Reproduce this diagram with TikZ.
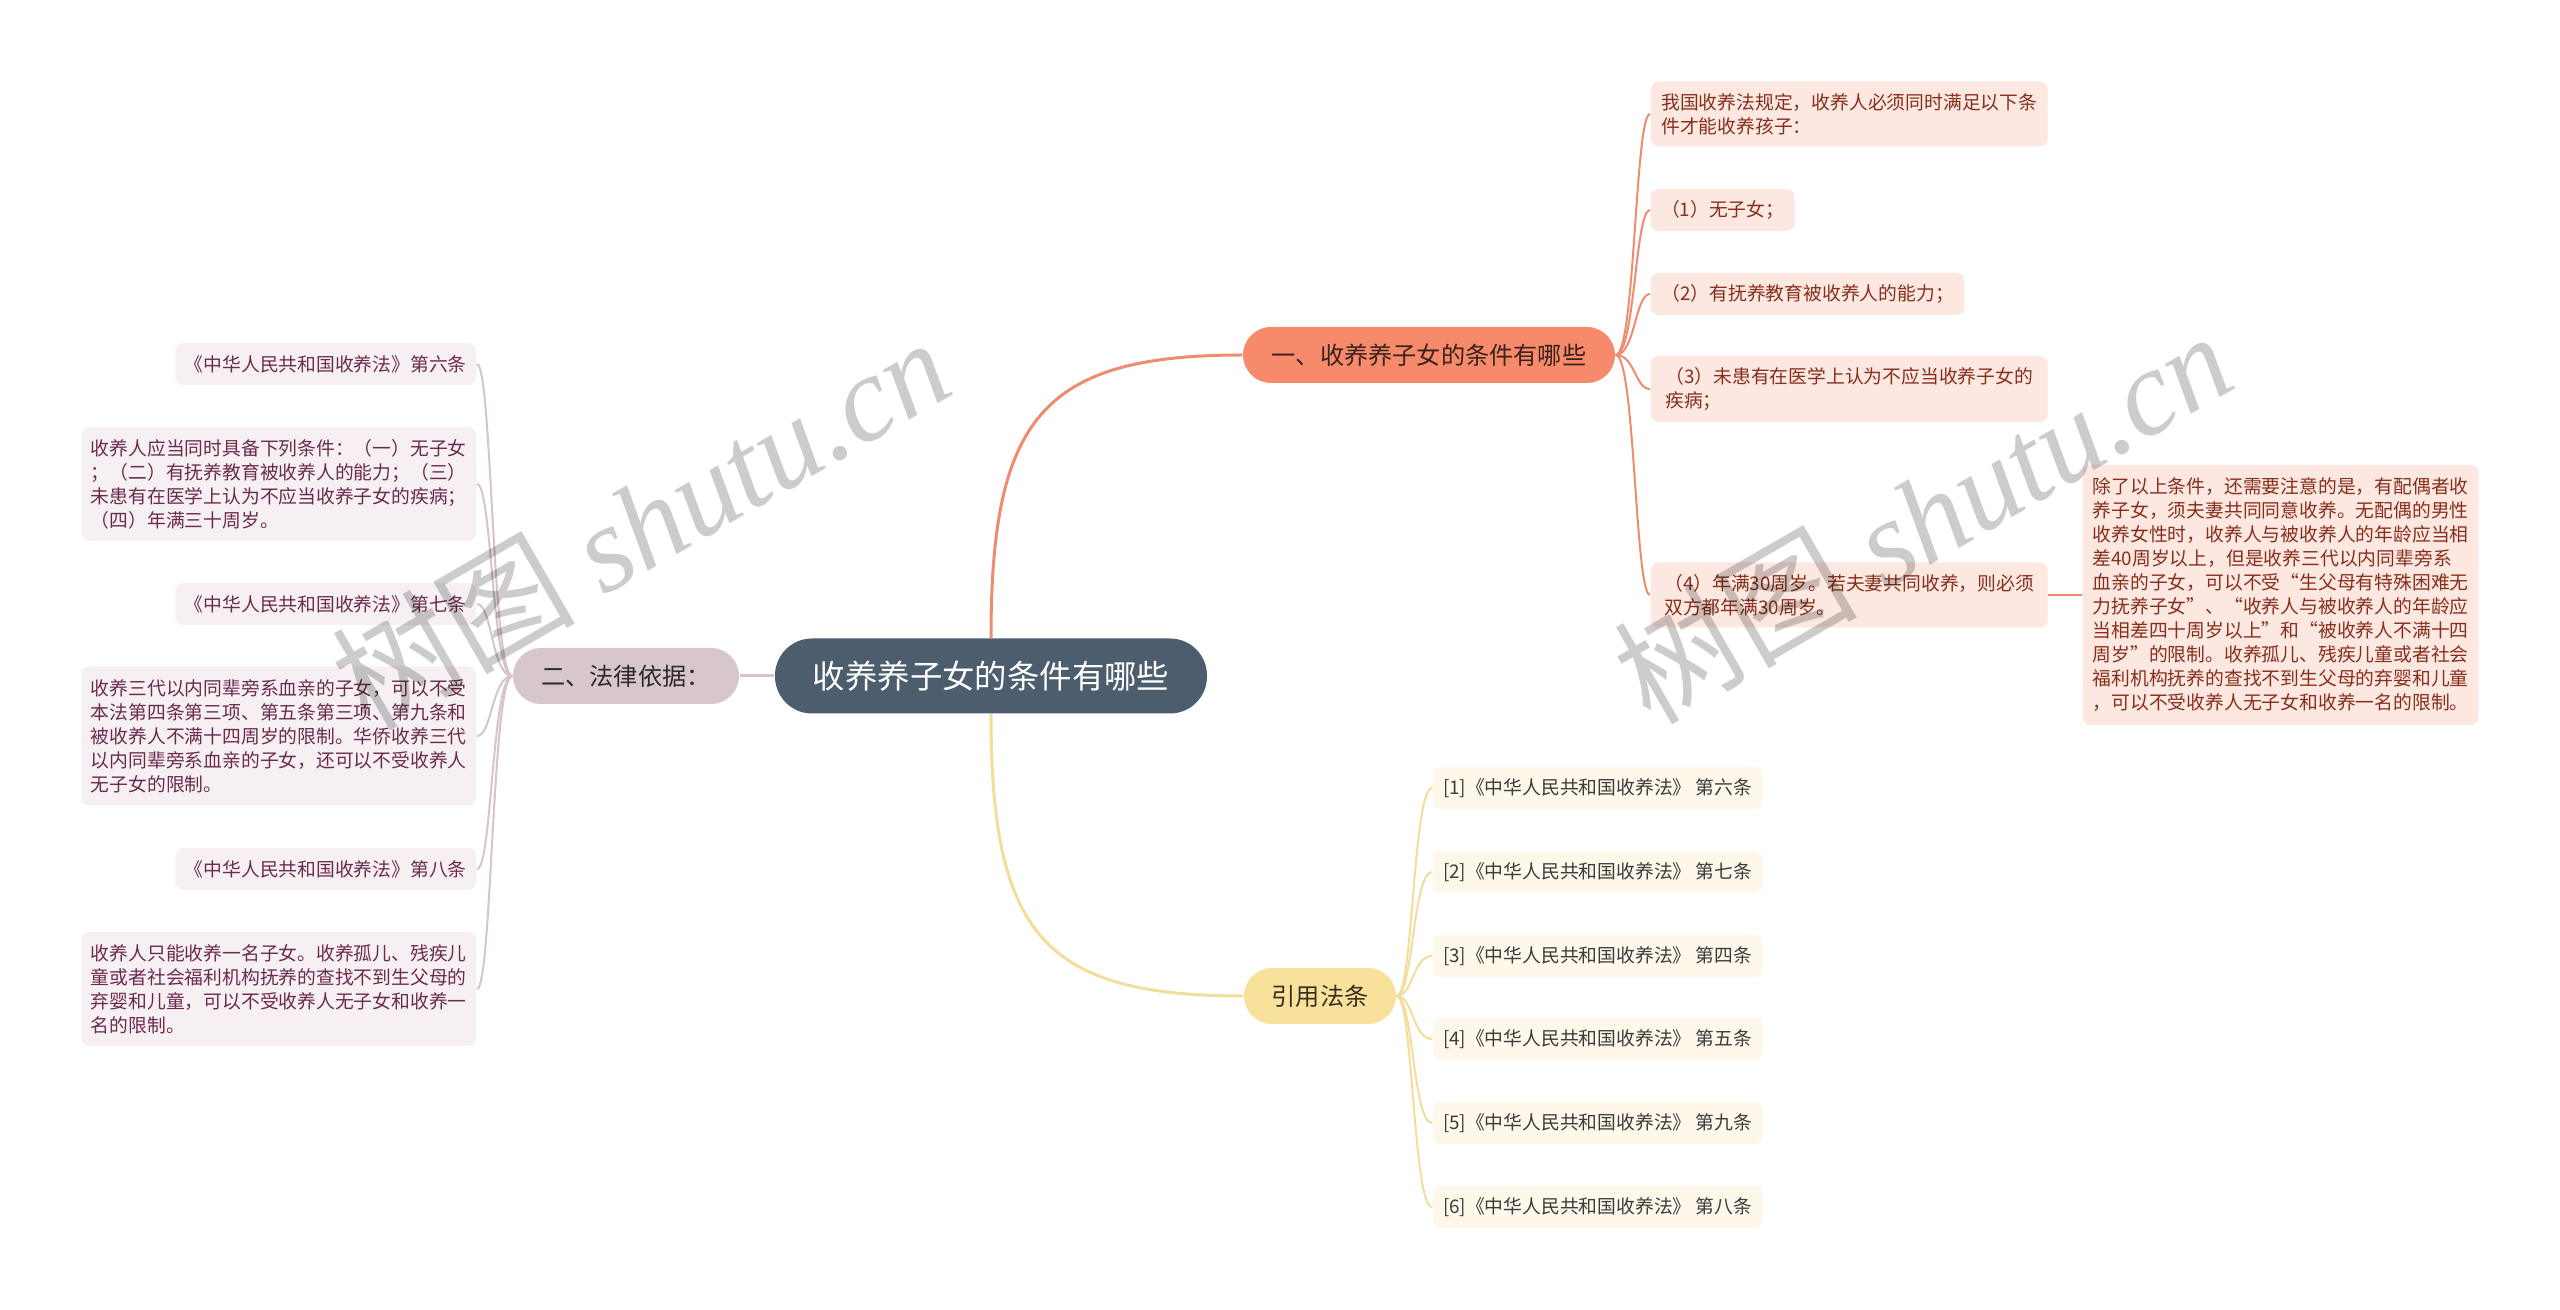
\documentclass[tikz,border=0pt]{standalone}
\usepackage{fontspec}
\newfontfamily\cjk{Noto Sans CJK SC}
\newfontfamily\wmlatin{Liberation Serif}
\usepackage{xcolor}
\usetikzlibrary{positioning,calc}
\definecolor{rootfill}{HTML}{4C5D6E}
\definecolor{tafill}{HTML}{F88A6C}
\definecolor{tatext}{HTML}{3A221C}
\definecolor{linea}{HTML}{EF8B6F}
\definecolor{tbfill}{HTML}{D8C6CF}
\definecolor{tbtext}{HTML}{2B2B2B}
\definecolor{lineb}{HTML}{D6C3CD}
\definecolor{tcfill}{HTML}{F7E19B}
\definecolor{tctext}{HTML}{3A3020}
\definecolor{linec}{HTML}{F2DD9A}
\definecolor{lafill}{HTML}{FDE7E1}
\definecolor{latext}{HTML}{86301C}
\definecolor{lbfill}{HTML}{F6F0F3}
\definecolor{lbtext}{HTML}{6B2B4E}
\definecolor{lcfill}{HTML}{FEF8EA}
\definecolor{lctext}{HTML}{3C3C3C}

\begin{document}
\begin{tikzpicture}[
  x=0.1mm, y=-0.1mm,
  box/.style={rounded corners=0.8mm, inner xsep=0.9mm, inner ysep=0pt, align=left},
  pill/.style={rounded corners=2.8mm, inner sep=0pt, minimum height=5.6mm, font=\cjk\fontsize{2.42mm}{2.9mm}\selectfont},
  root/.style={pill, rounded corners=3.7mm, fill=rootfill, text=white, minimum width=43.2mm, minimum height=7.5mm, font=\cjk\fontsize{3.24mm}{3.9mm}\selectfont},
  topica/.style={pill, fill=tafill, text=tatext, minimum width=37.2mm},
  topicb/.style={pill, fill=tbfill, text=tbtext, minimum width=22.6mm},
  topicc/.style={pill, fill=tcfill, text=tctext, minimum width=15.2mm},
  leaf/.style={box, font=\cjk\fontsize{1.88mm}{2.4mm}\selectfont, minimum height=4.2mm},
  leafa/.style={leaf, fill=lafill, text=latext, anchor=west},
  leafb/.style={leaf, fill=lbfill, text=lbtext, anchor=east},
  leafc/.style={leaf, fill=lcfill, text=lctext, anchor=west, minimum width=33mm},
  main/.style={line width=0.3mm},
  lnka/.style={draw=linea, line width=0.2mm},
  lnkb/.style={draw=lineb, line width=0.2mm},
  lnkc/.style={draw=linec, line width=0.2mm},
  wm/.style={text=black, text opacity=0.2, font=\cjk\fontsize{12.2mm}{12.2mm}\selectfont, rotate=30},
]
\useasboundingbox (0,0) rectangle (2560,1310);

\node[root] (root) at (991,676) {收养养子女的条件有哪些};
\node[topica] (t1) at (1429,355) {一、收养养子女的条件有哪些};
\node[topicb] (t2) at (626,676) {二、法律依据：};
\node[topicc] (t3) at (1320,996) {引用法条};

\coordinate (h1) at (1635,355);
\coordinate (h2) at (492,676);
\coordinate (h3) at (1413,996);

\node[leafa, minimum width=39.7mm, minimum height=6.5mm] (c1) at (1650,114) {我国收养法规定，收养人必须同时满足以下条\\件才能收养孩子：};
\node[leafa, minimum width=14.4mm] (c2) at (1650,210) {（1）无子女；};
\node[leafa, minimum width=31.4mm] (c3) at (1650,294) {（2）有抚养教育被收养人的能力；};
\node[leafa, minimum width=39.7mm, minimum height=6.6mm] (c4) at (1650,389) {（3）未患有在医学上认为不应当收养子女的\\疾病；};
\node[leafa, minimum width=39.7mm, minimum height=6.5mm] (c5) at (1650,595) {（4）年满30周岁。若夫妻共同收养，则必须\\双方都年满30周岁。};
\node[leafa, minimum width=39.6mm, minimum height=26mm] (c5n) at (2082,595) {除了以上条件，还需要注意的是，有配偶者收\\养子女，须夫妻共同同意收养。无配偶的男性\\收养女性时，收养人与被收养人的年龄应当相\\差40周岁以上，但是收养三代以内同辈旁系\\血亲的子女，可以不受“生父母有特殊困难无\\力抚养子女”、“收养人与被收养人的年龄应\\当相差四十周岁以上”和“被收养人不满十四\\周岁”的限制。收养孤儿、残疾儿童或者社会\\福利机构抚养的查找不到生父母的弃婴和儿童\\，可以不受收养人无子女和收养一名的限制。};

\node[leafb, minimum width=30.1mm] (l1) at (477,364) {《中华人民共和国收养法》第六条};
\node[leafb, minimum width=39.5mm, minimum height=11.4mm] (l2) at (477,484) {收养人应当同时具备下列条件：（一）无子女\\；（二）有抚养教育被收养人的能力；（三）\\未患有在医学上认为不应当收养子女的疾病；\\（四）年满三十周岁。};
\node[leafb, minimum width=30.1mm] (l3) at (477,604) {《中华人民共和国收养法》第七条};
\node[leafb, minimum width=39.5mm, minimum height=13.9mm] (l4) at (477,736) {收养三代以内同辈旁系血亲的子女，可以不受\\本法第四条第三项、第五条第三项、第九条和\\被收养人不满十四周岁的限制。华侨收养三代\\以内同辈旁系血亲的子女，还可以不受收养人\\无子女的限制。};
\node[leafb, minimum width=30.1mm] (l5) at (477,869) {《中华人民共和国收养法》第八条};
\node[leafb, minimum width=39.5mm, minimum height=11.4mm] (l6) at (477,989) {收养人只能收养一名子女。收养孤儿、残疾儿\\童或者社会福利机构抚养的查找不到生父母的\\弃婴和儿童，可以不受收养人无子女和收养一\\名的限制。};

\node[leafc] (r1) at (1432,788) {[1]《中华人民共和国收养法》 第六条};
\node[leafc] (r2) at (1432,872) {[2]《中华人民共和国收养法》 第七条};
\node[leafc] (r3) at (1432,956) {[3]《中华人民共和国收养法》 第四条};
\node[leafc] (r4) at (1432,1039) {[4]《中华人民共和国收养法》 第五条};
\node[leafc] (r5) at (1432,1123) {[5]《中华人民共和国收养法》 第九条};
\node[leafc] (r6) at (1432,1207) {[6]《中华人民共和国收养法》 第八条};

\draw[main, draw=linea] (root.north) .. controls +(0,-220) and +(-200,0) .. (t1.west);
\draw[main, draw=lineb] (root.west) -- (t2.east);
\draw[main, draw=linec] (root.south) .. controls +(0,220) and +(-200,0) .. (t3.west);

\draw[lnka] (t1.east) .. controls (h1) and (h1 |- c1.west) .. (c1.west);
\draw[lnka] (t1.east) .. controls (h1) and (h1 |- c2.west) .. (c2.west);
\draw[lnka] (t1.east) .. controls (h1) and (h1 |- c3.west) .. (c3.west);
\draw[lnka] (t1.east) .. controls (h1) and (h1 |- c4.west) .. (c4.west);
\draw[lnka] (t1.east) .. controls (h1) and (h1 |- c5.west) .. (c5.west);
\draw[lnka] (c5.east) -- (c5n.west);

\draw[lnkb] (t2.west) .. controls (h2) and (h2 |- l1.east) .. (l1.east);
\draw[lnkb] (t2.west) .. controls (h2) and (h2 |- l2.east) .. (l2.east);
\draw[lnkb] (t2.west) .. controls (h2) and (h2 |- l3.east) .. (l3.east);
\draw[lnkb] (t2.west) .. controls (h2) and (h2 |- l4.east) .. (l4.east);
\draw[lnkb] (t2.west) .. controls (h2) and (h2 |- l5.east) .. (l5.east);
\draw[lnkb] (t2.west) .. controls (h2) and (h2 |- l6.east) .. (l6.east);

\draw[lnkc] (t3.east) .. controls (h3) and (h3 |- r1.west) .. (r1.west);
\draw[lnkc] (t3.east) .. controls (h3) and (h3 |- r2.west) .. (r2.west);
\draw[lnkc] (t3.east) .. controls (h3) and (h3 |- r3.west) .. (r3.west);
\draw[lnkc] (t3.east) .. controls (h3) and (h3 |- r4.west) .. (r4.west);
\draw[lnkc] (t3.east) .. controls (h3) and (h3 |- r5.west) .. (r5.west);
\draw[lnkc] (t3.east) .. controls (h3) and (h3 |- r6.west) .. (r6.west);

\node[wm] (wm1) at (640,522) {树图 {\wmlatin\itshape shutu.cn}};
\node[wm] (wm2) at (1922,516) {树图 {\wmlatin\itshape shutu.cn}};
\end{tikzpicture}
\end{document}
